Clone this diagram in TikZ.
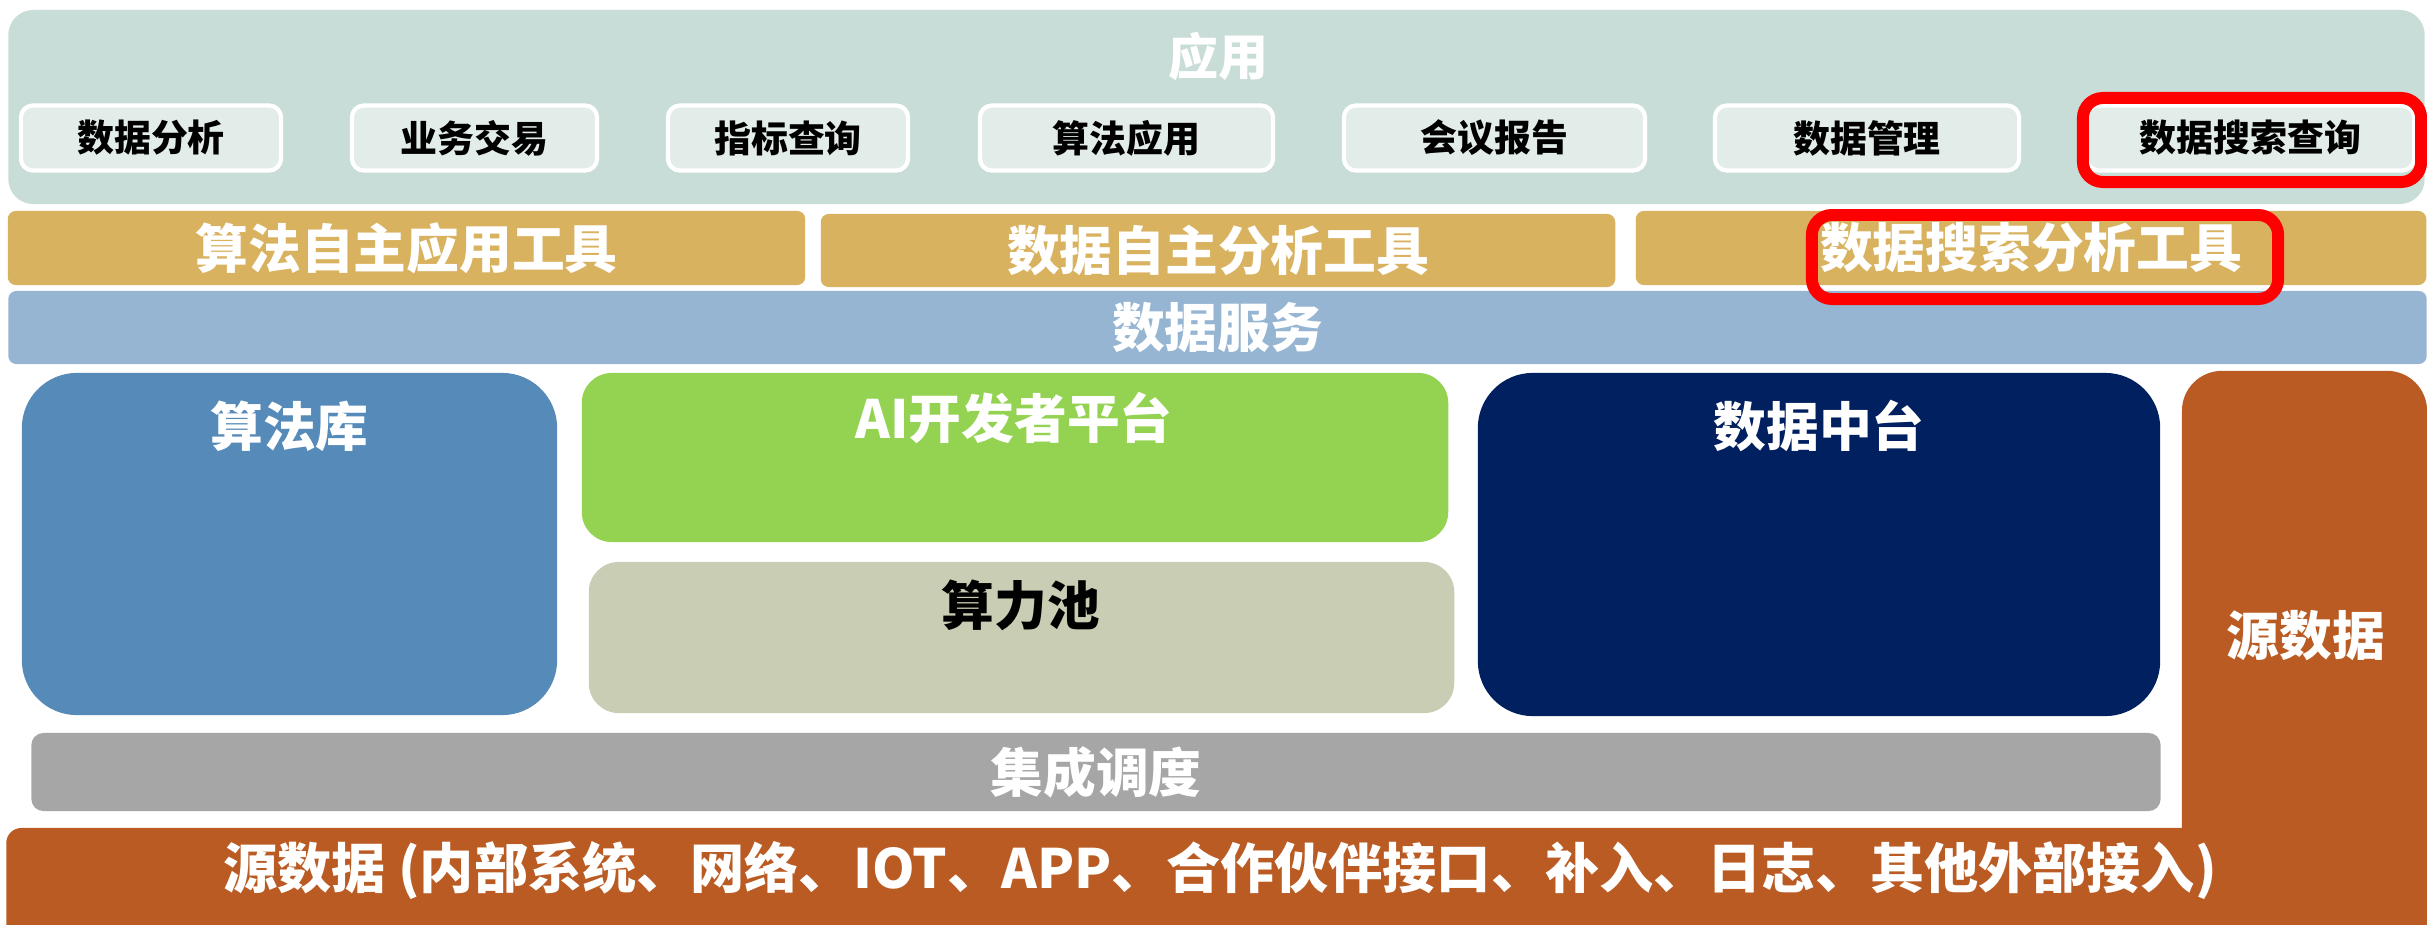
\documentclass[tikz,border=0pt]{standalone}
\usepackage{fontspec}
\setmainfont{Noto Sans CJK SC}
\definecolor{appbg}{HTML}{C9DDD8}
\definecolor{itembg}{HTML}{E2ECE9}
\definecolor{toolbg}{HTML}{D9B260}
\definecolor{svcbg}{HTML}{95B5D3}
\definecolor{libbg}{HTML}{568BB9}
\definecolor{aibg}{HTML}{94D351}
\definecolor{poolbg}{HTML}{C9CDB3}
\definecolor{midbg}{HTML}{00205F}
\definecolor{srcbg}{HTML}{B95B23}
\definecolor{schedbg}{HTML}{A6A6A6}
\begin{document}
\begin{tikzpicture}[
            x=0.01cm, y=-0.01cm,
            every node/.style={inner sep=0pt, font=\bfseries\fontsize{15}{18}\selectfont, text=white},
            block/.style={fill=#1, rounded corners=0.08cm},
            item/.style={fill=itembg, draw=white, line width=1.2pt, rounded corners=0.12cm,
                minimum height=0.65cm, text=black, font=\bfseries\fontsize{10.5}{12}\selectfont},
            mark box/.style={draw=red, line width=3.4pt, rounded corners=0.2cm}
            ]
            \useasboundingbox[fill=white] (0,0) rectangle (2427,924);
            \clip (0,0) rectangle (2427,924);
            % application layer
            \node[block=appbg, rounded corners=0.25cm, minimum width=24.15cm, minimum height=1.94cm] (app) at (1216.5,107) {};
            \node[font=\bfseries\fontsize{14.2}{17}\selectfont] (apptitle) at (1218,56) {应用};
            \node[item, minimum width=2.60cm] (item1) at (151,138) {数据分析};
            \node[item, minimum width=2.45cm] (item2) at (474.5,138) {业务交易};
            \node[item, minimum width=2.40cm] (item3) at (788,138) {指标查询};
            \node[item, minimum width=2.93cm] (item4) at (1126.5,138) {算法应用};
            \node[item, minimum width=3.01cm] (item5) at (1494.5,138) {会议报告};
            \node[item, minimum width=3.04cm] (item6) at (1867,138) {数据管理};
            \node[item, minimum width=3.27cm] (item7) at (2250.5,138) {数据搜索查询};
            % tools
            \node[block=toolbg, minimum width=7.97cm, minimum height=0.74cm] (tool1) at (406.5,248) {算法自主应用工具};
            \node[block=toolbg, minimum width=7.94cm, minimum height=0.73cm] (tool2) at (1218,250.5) {数据自主分析工具};
            \node[block=toolbg, minimum width=7.90cm, minimum height=0.74cm] (tool3) at (2031,248) {数据搜索分析工具};
            \node[block=svcbg, minimum width=24.17cm, minimum height=0.73cm] (svc) at (1217.5,327.5) {数据服务};
            % platforms
            \node[block=libbg, rounded corners=0.55cm, minimum width=5.35cm, minimum height=3.42cm] (lib) at (289.5,544) {};
            \node (libtitle) at (289.5,426) {算法库};
            \node[block=aibg, rounded corners=0.3cm, minimum width=8.66cm, minimum height=1.69cm] (ai) at (1015,457.5) {};
            \node (aititle) at (1014,418) {AI开发者平台};
            \node[block=poolbg, rounded corners=0.3cm, minimum width=8.65cm, minimum height=1.51cm] (pool) at (1021.5,637.5) {};
            \node[text=black] (pooltitle) at (1021,605) {算力池};
            \node[block=midbg, rounded corners=0.55cm, minimum width=6.82cm, minimum height=3.43cm] (mid) at (1819,544.5) {};
            \node (midtitle) at (1819,426) {数据中台};
            \node[block=schedbg, rounded corners=0.12cm, minimum width=21.28cm, minimum height=0.78cm] (sched) at (1096,772) {集成调度};
            % source data
            \node[block=srcbg, rounded corners=0.4cm, minimum width=2.45cm, minimum height=5.89cm] (srccol) at (2304.5,665.5) {};
            \node (srccoltitle) at (2306,636) {源数据};
            \node[block=srcbg, rounded corners=0.15cm, minimum width=24.20cm, minimum height=1.32cm] (srcbar) at (1217,894) {};
            \node[font=\bfseries\fontsize{15.4}{18}\selectfont] (srcbartitle) at (1220,871) {源数据 (内部系统、网络、IOT、APP、合作伙伴接口、补入、日志、其他外部接入)};
            % highlights
            \node[mark box, minimum width=3.38cm, minimum height=0.84cm] (mark1) at (2252,140) {};
            \node[mark box, minimum width=4.66cm, minimum height=0.84cm] (mark2) at (2045,257) {};
\end{tikzpicture}
\end{document}
